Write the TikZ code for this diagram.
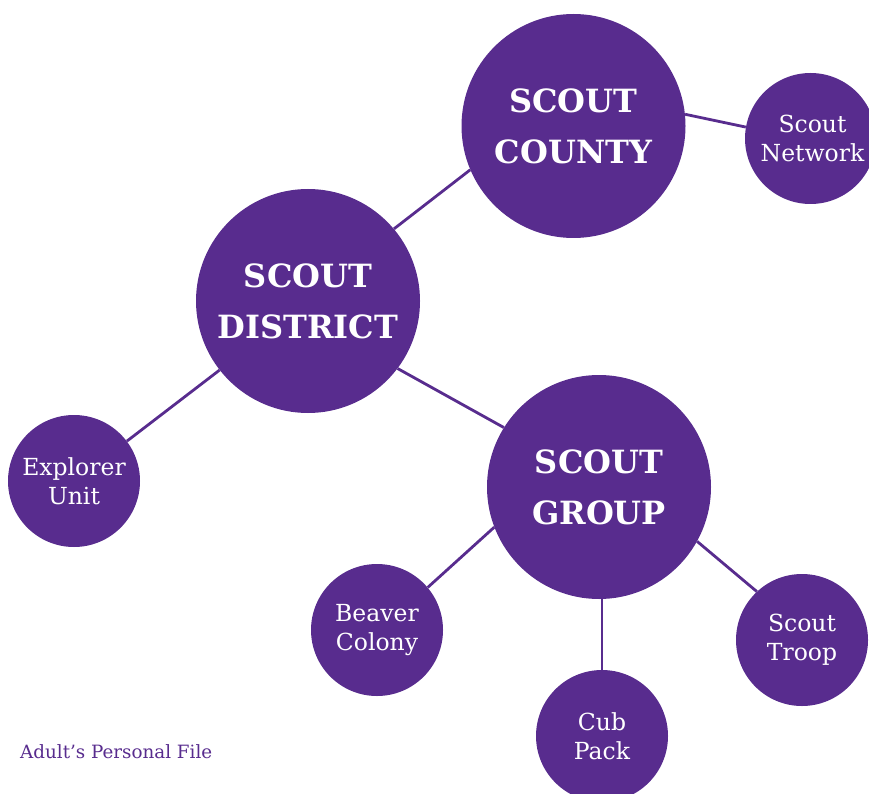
\documentclass[tikz,border=0pt]{standalone}
\usepackage{fontspec}
\setmainfont{DejaVu Serif}
\definecolor{scoutpurple}{RGB}{88,44,142}
\tikzset{
  big/.style={circle, fill=scoutpurple, text=white, inner sep=0pt, minimum size=224pt, align=center, font=\bfseries\fontsize{32}{51}\selectfont},
  small/.style={circle, fill=scoutpurple, text=white, inner sep=0pt, minimum size=132pt, align=center, font=\fontsize{23.5}{29}\selectfont},
  link/.style={draw=scoutpurple, line width=2.8pt}
}
\begin{document}
\begin{tikzpicture}[x=1pt,y=-1pt]
\useasboundingbox (0,0) rectangle (869,794);
\node[big] (county) at (573.5,126) {SCOUT\\COUNTY};
\node[small, minimum size=131pt] (network) at (810.5,138.5) {\hspace*{4pt}Scout\\\hspace*{4pt}Network};
\node[big] (district) at (308,301) {SCOUT\\DISTRICT};
\node[small] (explorer) at (74,481) {Explorer\\Unit};
\node[big] (group) at (599,487) {SCOUT\\GROUP};
\node[small] (beaver) at (377,630) {Beaver\\Colony};
\node[small] (cub) at (602,736) {Cub\\Pack};
\node[small] (troop) at (802,640) {Scout\\Troop};
\draw[link] (county.6) -- (network.170.6);
\draw[link] (county.203) -- (district.40);
\draw[link] (district.218) -- (explorer.37);
\draw[link] (district.-37.4) -- (group.148);
\draw[link] (group.201) -- (beaver.40);
\draw[link] (cub.north) -- (cub.north |- group.south);
\draw[link] (group.-29) -- (troop.133);
\node[anchor=base west, text=scoutpurple, inner sep=0pt, font=\fontsize{18.3}{22}\selectfont] (footer) at (20,758) {Adult’s Personal File};
\end{tikzpicture}
\end{document}
